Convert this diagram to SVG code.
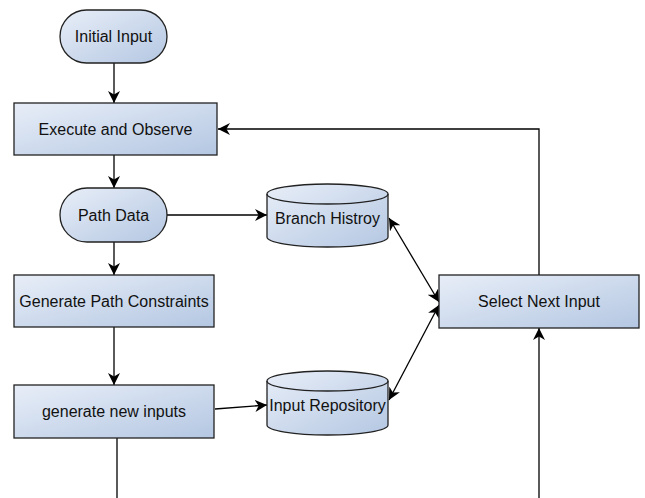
<svg xmlns="http://www.w3.org/2000/svg" width="645" height="498" viewBox="0 0 645 498">
<defs>
<linearGradient id="g" x1="0" y1="0" x2="1" y2="1">
<stop offset="0" stop-color="#e8eef8"/>
<stop offset="1" stop-color="#b4c7e2"/>
</linearGradient>
<marker id="a" viewBox="0 0 10 10" refX="10" refY="5" markerWidth="12" markerHeight="12" markerUnits="userSpaceOnUse" orient="auto-start-reverse">
<path d="M0,0 L10,5 L0,10 L3,5 z" fill="#000"/>
</marker>
<style>
.s{fill:url(#g);stroke:#222;stroke-width:1.3}
.t{font-family:"Liberation Sans",Arial,sans-serif;font-size:16px;fill:#111;text-anchor:middle;dominant-baseline:central}
.c{fill:none;stroke:#000;stroke-width:1.3}
</style>
</defs>
<rect width="645" height="498" fill="#fff"/>
<g id="connectors">
<path class="c" d="M114,63 V103" marker-end="url(#a)"/>
<path class="c" d="M114,155 V188" marker-end="url(#a)"/>
<path class="c" d="M114,242 V275" marker-end="url(#a)"/>
<path class="c" d="M114,327 V385" marker-end="url(#a)"/>
<path class="c" d="M167,215 H267" marker-end="url(#a)"/>
<path class="c" d="M215,409 L267,405" marker-end="url(#a)"/>
<path class="c" d="M389,218 L439,302" marker-start="url(#a)" marker-end="url(#a)"/>
<path class="c" d="M389,400 L439,305" marker-start="url(#a)" marker-end="url(#a)"/>
<path class="c" d="M539,275 V129 H218" marker-end="url(#a)"/>
<path class="c" d="M539,498 V328" marker-end="url(#a)"/>
<path class="c" d="M117,438 V498"/>
</g>
<g id="initial-input">
<rect class="s" x="60" y="10" width="107" height="53" rx="26.5"/>
<text class="t" x="113.5" y="36.5">Initial Input</text>
</g>
<g id="execute-observe">
<rect class="s" x="14" y="103" width="203" height="52"/>
<text class="t" x="115.5" y="129">Execute and Observe</text>
</g>
<g id="path-data">
<rect class="s" x="60" y="188" width="107" height="54" rx="27"/>
<text class="t" x="113.5" y="215">Path Data</text>
</g>
<g id="gen-constraints">
<rect class="s" x="14" y="275" width="200" height="52"/>
<text class="t" x="114" y="301">Generate Path Constraints</text>
</g>
<g id="gen-inputs">
<rect class="s" x="14" y="385" width="200" height="53"/>
<text class="t" x="114" y="411.5">generate new inputs</text>
</g>
<g id="branch-history">
<path class="s" d="M267,194 A60.5,10 0 0 1 388,194 V237 A60.5,10 0 0 1 267,237 Z"/>
<path class="c" d="M267,194 A60.5,10 0 0 0 388,194" style="stroke:#222"/>
<text class="t" x="327.5" y="218">Branch Histroy</text>
</g>
<g id="input-repository">
<path class="s" d="M267,381 A60.5,10 0 0 1 388,381 V425 A60.5,10 0 0 1 267,425 Z"/>
<path class="c" d="M267,381 A60.5,10 0 0 0 388,381" style="stroke:#222"/>
<text class="t" x="327.5" y="405">Input Repository</text>
</g>
<g id="select-next">
<rect class="s" x="439" y="275" width="200" height="53"/>
<text class="t" x="539" y="301.5">Select Next Input</text>
</g>
</svg>
